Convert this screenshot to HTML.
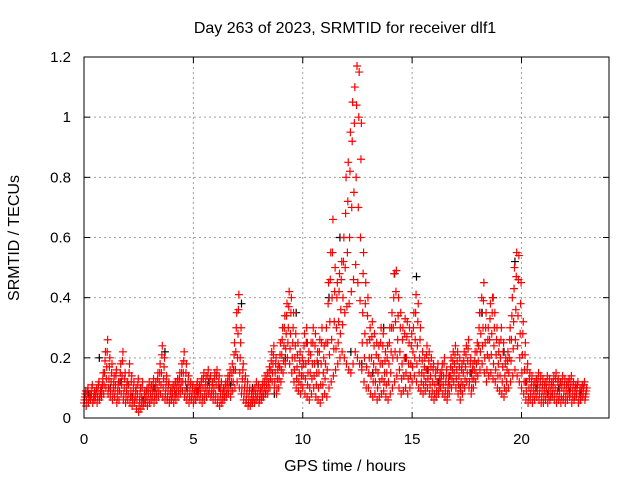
<!DOCTYPE html>
<html><head><meta charset="utf-8"><style>
body{margin:0;background:#fff;}
svg{display:block;font-family:"Liberation Sans",sans-serif;}
</style></head><body>
<svg id="chart" width="640" height="480" viewBox="0 0 640 480" xmlns="http://www.w3.org/2000/svg">
<rect width="640" height="480" fill="#fff"/>
<g id="grid"></g>
<g id="marks"></g>
<rect x="84" y="57" width="525" height="361" fill="none" stroke="#000" stroke-width="1"/>
<g id="ticks"></g>
<text x="345" y="33" font-size="16" text-anchor="middle">Day 263 of 2023, SRMTID for receiver dlf1</text>
<text transform="translate(19,238) rotate(-90)" font-size="16" text-anchor="middle">SRMTID / TECUs</text>
<text x="345" y="471" font-size="16" text-anchor="middle">GPS time / hours</text>
</svg>
<script>
const xTicks=[0,5,10,15,20];
const yTicks=[0,0.2,0.4,0.6,0.8,1,1.2];
const yTickLabels=["0","0.2","0.4","0.6","0.8","1","1.2"];
const step=0.1;
const upper=[.09,.10,.08,.11,.09,.10,.12,.10,.15,.22,.26,.20,.18,.14,.16,.12,.18,.22,.15,.12,.18,.14,.12,.10,.13,.10,.12,.09,.10,.12,.11,.13,.12,.15,.18,.24,.20,.14,.12,.10,.11,.12,.13,.15,.18,.22,.18,.14,.12,.11,.10,.12,.11,.13,.15,.14,.16,.14,.12,.15,.16,.14,.12,.10,.12,.14,.16,.18,.25,.35,.41,.30,.18,.14,.12,.10,.09,.10,.12,.11,.10,.12,.14,.15,.17,.22,.24,.20,.18,.25,.30,.34,.38,.42,.40,.35,.28,.25,.22,.20,.28,.30,.22,.25,.30,.28,.22,.26,.30,.24,.30,.45,.55,.66,.50,.45,.48,.52,.60,.80,.85,.95,1.05,1.10,1.17,1.15,.98,.55,.45,.40,.30,.32,.28,.25,.24,.30,.28,.22,.24,.30,.35,.48,.49,.40,.35,.30,.33,.32,.30,.28,.35,.41,.38,.30,.22,.20,.24,.22,.20,.18,.16,.18,.15,.18,.20,.16,.14,.20,.22,.24,.22,.20,.18,.22,.24,.26,.20,.18,.22,.25,.35,.40,.45,.35,.30,.38,.40,.35,.30,.25,.30,.25,.20,.22,.30,.40,.50,.55,.54,.45,.32,.25,.18,.15,.14,.12,.13,.15,.14,.13,.12,.14,.13,.12,.14,.15,.13,.12,.14,.13,.12,.13,.14,.12,.11,.12,.10,.11,.12,.10];
const q3=[.08,.09,.08,.10,.08,.09,.11,.09,.13,.19,.22,.17,.15,.12,.14,.11,.15,.19,.13,.11,.15,.12,.10,.09,.11,.08,.10,.08,.09,.10,.10,.11,.10,.13,.15,.21,.17,.12,.11,.09,.10,.11,.12,.13,.15,.19,.15,.12,.11,.10,.09,.11,.10,.12,.13,.12,.14,.13,.11,.13,.14,.12,.10,.09,.11,.12,.14,.15,.21,.30,.36,.25,.16,.12,.10,.09,.08,.09,.10,.10,.09,.11,.12,.13,.15,.19,.21,.18,.16,.21,.26,.30,.34,.37,.35,.30,.24,.21,.19,.17,.24,.25,.19,.21,.25,.24,.19,.22,.25,.20,.25,.38,.46,.55,.42,.40,.42,.46,.52,.68,.72,.82,.92,.98,1.04,1.00,.86,.48,.38,.34,.26,.27,.24,.21,.20,.25,.24,.19,.20,.25,.30,.40,.42,.34,.30,.26,.28,.27,.25,.24,.30,.35,.32,.26,.19,.17,.21,.19,.17,.16,.14,.16,.13,.16,.18,.14,.12,.17,.19,.21,.19,.17,.16,.19,.21,.23,.18,.16,.19,.22,.30,.35,.39,.30,.26,.33,.35,.30,.26,.22,.26,.22,.18,.19,.26,.34,.43,.47,.46,.38,.28,.21,.16,.13,.12,.11,.12,.13,.12,.11,.11,.12,.11,.11,.12,.13,.12,.11,.12,.11,.11,.12,.12,.11,.10,.11,.09,.10,.11,.09];
const mid=[.07,.08,.07,.08,.07,.08,.09,.08,.11,.15,.17,.13,.12,.10,.11,.09,.12,.14,.10,.09,.11,.09,.08,.07,.08,.06,.07,.06,.07,.08,.08,.09,.08,.10,.12,.15,.13,.10,.09,.08,.08,.09,.10,.11,.12,.15,.12,.10,.09,.08,.08,.09,.09,.10,.10,.10,.11,.11,.09,.10,.11,.10,.08,.08,.09,.10,.12,.12,.16,.22,.28,.20,.13,.10,.08,.07,.06,.07,.08,.08,.08,.09,.10,.11,.12,.16,.18,.15,.13,.17,.21,.24,.28,.30,.28,.25,.20,.17,.15,.14,.18,.18,.15,.15,.18,.18,.15,.15,.18,.15,.18,.25,.32,.40,.32,.30,.32,.36,.40,.50,.55,.60,.70,.75,.80,.70,.60,.35,.28,.25,.20,.20,.18,.16,.15,.18,.18,.15,.15,.18,.22,.30,.32,.26,.22,.18,.20,.20,.18,.18,.22,.26,.24,.20,.15,.14,.16,.16,.14,.12,.11,.12,.11,.14,.14,.12,.10,.14,.16,.18,.16,.14,.12,.15,.17,.19,.15,.13,.16,.18,.24,.28,.30,.25,.21,.26,.28,.24,.21,.18,.20,.17,.14,.16,.20,.26,.32,.36,.34,.28,.21,.16,.12,.10,.10,.09,.10,.11,.10,.09,.09,.10,.09,.09,.10,.10,.09,.09,.10,.09,.09,.10,.10,.09,.09,.10,.08,.09,.10,.08];
const q1=[.06,.06,.06,.07,.06,.07,.07,.07,.09,.11,.13,.10,.09,.08,.09,.07,.09,.11,.08,.07,.08,.07,.06,.06,.06,.04,.05,.05,.06,.06,.06,.07,.07,.08,.09,.11,.10,.08,.07,.06,.07,.07,.08,.09,.10,.12,.09,.08,.07,.07,.06,.07,.08,.08,.07,.08,.09,.09,.08,.08,.08,.07,.06,.06,.07,.08,.10,.09,.12,.16,.20,.15,.10,.08,.06,.05,.05,.06,.06,.07,.06,.07,.08,.09,.10,.13,.15,.12,.10,.13,.16,.19,.23,.25,.23,.20,.16,.13,.12,.11,.14,.13,.11,.10,.13,.14,.11,.10,.11,.11,.13,.16,.21,.26,.23,.23,.25,.28,.31,.35,.37,.38,.42,.46,.51,.45,.39,.25,.20,.17,.15,.14,.12,.12,.10,.12,.13,.12,.11,.12,.15,.20,.22,.20,.16,.13,.14,.15,.13,.14,.17,.20,.18,.15,.12,.11,.12,.13,.11,.09,.08,.09,.09,.12,.11,.09,.08,.11,.13,.15,.13,.11,.09,.11,.13,.15,.12,.10,.13,.15,.19,.22,.24,.20,.16,.20,.21,.18,.16,.14,.14,.12,.10,.12,.15,.19,.23,.26,.24,.20,.15,.12,.09,.07,.08,.07,.08,.09,.08,.07,.07,.08,.07,.07,.08,.08,.07,.07,.07,.07,.07,.08,.08,.07,.07,.08,.06,.07,.08,.07];
const lower=[.05,.04,.05,.06,.05,.06,.05,.06,.07,.08,.10,.08,.07,.06,.07,.05,.06,.08,.06,.05,.06,.05,.04,.05,.03,.02,.03,.04,.05,.04,.05,.06,.05,.06,.07,.08,.07,.06,.06,.05,.06,.05,.06,.07,.08,.09,.07,.06,.05,.06,.05,.06,.07,.06,.05,.06,.07,.08,.07,.06,.06,.05,.04,.05,.06,.07,.08,.07,.09,.10,.12,.10,.08,.06,.05,.04,.04,.05,.05,.06,.05,.06,.07,.08,.08,.10,.12,.10,.08,.10,.12,.15,.18,.20,.18,.15,.12,.10,.09,.08,.10,.08,.07,.06,.08,.10,.07,.06,.05,.07,.08,.07,.10,.12,.14,.16,.18,.20,.22,.20,.18,.16,.15,.18,.22,.20,.18,.16,.12,.10,.10,.08,.07,.08,.06,.07,.08,.09,.07,.06,.08,.10,.12,.14,.10,.08,.09,.10,.08,.10,.12,.14,.12,.10,.09,.08,.09,.10,.08,.07,.06,.07,.08,.10,.08,.07,.06,.08,.10,.12,.10,.08,.06,.08,.10,.12,.10,.08,.10,.12,.14,.16,.18,.15,.12,.14,.15,.13,.12,.10,.09,.08,.07,.09,.10,.12,.14,.16,.14,.12,.10,.08,.06,.05,.06,.05,.06,.07,.06,.05,.05,.06,.05,.06,.07,.06,.05,.06,.05,.06,.05,.06,.07,.05,.06,.07,.05,.06,.07,.06];
const blackStep=0.5;
const black=[.08,.20,.10,.12,.07,.06,.10,.22,.08,.10,.09,.12,.10,.11,.38,.10,.07,.08,.20,.35,.25,.18,.40,.60,.22,.18,.15,.30,.48,.20,.47,.16,.12,.14,.10,.15,.35,.40,.22,.52,.12,.10,.08,.10,.09,.08];
const X=t=>84+t*(525/24);
const Y=v=>418-v*(361/1.2);
const NS='http://www.w3.org/2000/svg';
const grid=document.getElementById('grid'),ticks=document.getElementById('ticks'),marks=document.getElementById('marks');
function line(p,x1,y1,x2,y2,st,dash){const l=document.createElementNS(NS,'line');l.setAttribute('x1',x1);l.setAttribute('y1',y1);l.setAttribute('x2',x2);l.setAttribute('y2',y2);l.setAttribute('stroke',st);if(dash)l.setAttribute('stroke-dasharray',dash);p.appendChild(l);return l;}
xTicks.forEach(t=>{const x=X(t);
 if(t>0){const g=line(grid,x,57,x,418,'#a0a0a0','2,3');}
 const a=line(ticks,x,418,x,412,'#000');
 const b=line(ticks,x,57,x,63,'#000');
 const tx=document.createElementNS(NS,'text');tx.setAttribute('x',x);tx.setAttribute('y',444);tx.setAttribute('font-size','15');tx.setAttribute('text-anchor','middle');tx.textContent=t;
 
 
 ticks.appendChild(tx);});
yTicks.forEach((v,i)=>{const y=Y(v);
 if(v>0&&v<1.2){const g=line(grid,84,y,609,y,'#a0a0a0','2,3');}
 const a=line(ticks,84,y,90,y,'#000');
 const b=line(ticks,609,y,603,y,'#000');
 const tx=document.createElementNS(NS,'text');tx.setAttribute('x',71);tx.setAttribute('y',y+5);tx.setAttribute('font-size','15');tx.setAttribute('text-anchor','end');tx.textContent=yTickLabels[i];
 
 
 ticks.appendChild(tx);});
function plus(t,v,c){const x=X(t),y=Y(v);const p=document.createElementNS(NS,'path');p.setAttribute('d',`M${x-4},${y}H${x+4}M${x},${y-4}V${y+4}`);p.setAttribute('stroke',c);p.setAttribute('stroke-width','1.2');p.setAttribute('fill','none');
 
 
 marks.appendChild(p);}
black.forEach((v,i)=>plus(i*blackStep+0.2,v,'#000'));
[lower,q1,mid,q3,upper].forEach((arr,k)=>arr.forEach((v,i)=>plus(i*step+k*0.02,v,'#ff0000')));
</script>
</body></html>
